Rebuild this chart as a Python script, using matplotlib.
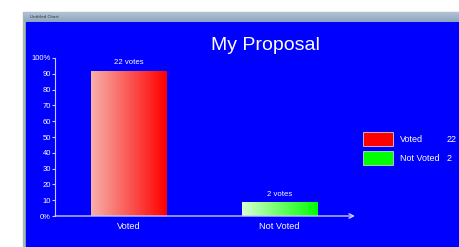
import numpy as np
import matplotlib
matplotlib.use("Agg")
import matplotlib.pyplot as plt
from matplotlib.patches import Rectangle

# chart data
categories = ["Voted", "Not Voted"]
votes = [22, 2]
percent = [91.7, 8.3]
y_ticks = [0, 10, 20, 30, 40, 50, 60, 70, 80, 90, 100]
y_labels = ["0%", "10", "20", "30", "40", "50", "60", "70", "80", "90", "100%"]
bar_colors = [("#f7b0a8", "#ff0000"), ("#d8ffd0", "#00ff00")]

W, H = 459, 247
fig = plt.figure(figsize=(W / 100, H / 100), dpi=100, facecolor="white")

# window frame + blue panel
bg = fig.add_axes([0, 0, 1, 1])
bg.axis("off")
bg.add_patch(Rectangle((23, 12), W - 23, H - 12, color="#a9b8b0"))
bg.add_patch(Rectangle((26, 22), W - 26, H - 22, color="#0000ff"))
bar_grad = np.linspace(0, 1, 50).reshape(-1, 1)
bg.imshow(bar_grad, cmap=matplotlib.colors.LinearSegmentedColormap.from_list(
    "tb", ["#b3c3d6", "#8ea5bf"]), extent=(24, W, 22, 12), aspect="auto", zorder=3)
bg.text(30, 17, "Untitled Chart", fontsize=3, color="#303030", va="center", zorder=4)
bg.set_xlim(0, W)
bg.set_ylim(H, 0)

fig.text(265 / W, 1 - 46 / H, "My Proposal", color="white", fontsize=14,
         ha="center", va="center", family="Liberation Sans")

ax = fig.add_axes([55 / W, 31 / H, 300 / W, 158 / H])
ax.set_facecolor("none")
axis_col = "#c8c8ff"
for s in ["top", "right", "bottom"]:
    ax.spines[s].set_visible(False)
ax.spines["left"].set_color(axis_col)
ax.annotate("", xy=(1.0, 0), xytext=(0, 0), xycoords="axes fraction",
            arrowprops=dict(arrowstyle="->", color=axis_col, lw=1,
                            mutation_scale=8, shrinkA=0, shrinkB=0))

bars = ax.bar(range(len(categories)), percent, width=0.5, color="none")
for b, (c0, c1), v in zip(bars, bar_colors, votes):
    x0, y0 = b.get_x(), b.get_y()
    w, h = b.get_width(), b.get_height()
    cm = matplotlib.colors.LinearSegmentedColormap.from_list("g", [c0, c1])
    ax.imshow(np.linspace(0, 1, 100).reshape(1, -1), cmap=cm,
              extent=(x0, x0 + w, y0, y0 + h), aspect="auto", zorder=2)
    ax.text(x0 + w / 2, h + 3, f"{v} votes", color="white", fontsize=5.6,
            ha="center", va="bottom", family="Liberation Sans")
ax.set_xlim(-0.49, 1.5)
ax.set_ylim(0, 100)

ax.set_xticks(range(len(categories)))
ax.set_xticklabels(categories, color="white", fontsize=6.6, family="Liberation Sans")
ax.tick_params(axis="x", length=0, pad=4)
ax.set_yticks(y_ticks)
ax.set_yticklabels(y_labels, color="white", fontsize=5.5, family="Liberation Sans")
ax.tick_params(axis="y", length=2, color=axis_col, pad=1)

# legend
lx, ly = 363, 132
for i, (cat, v, (c0, c1)) in enumerate(zip(categories, votes, bar_colors)):
    y = ly + i * 19
    bg.add_patch(Rectangle((lx, y), 30, 14, facecolor=c1, edgecolor="#d0d0d0", lw=0.6))
    bg.text(lx + 37, y + 7, cat, color="white", fontsize=6.5, va="center",
            family="Liberation Sans")
    bg.text(lx + 84, y + 7, str(v), color="white", fontsize=6.5, va="center",
            family="Liberation Sans")

fig.savefig("out.png", dpi=100)
